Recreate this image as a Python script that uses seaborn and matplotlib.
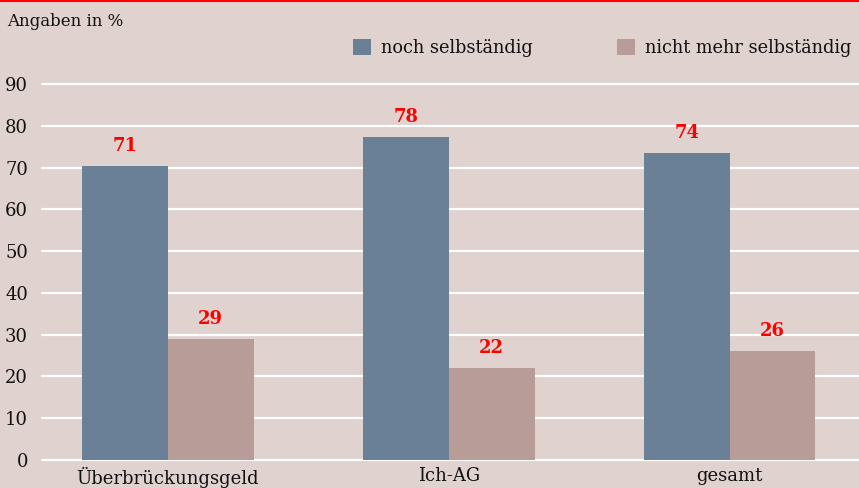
import numpy as np
import pandas as pd
import matplotlib.pyplot as plt
import seaborn as sns
from matplotlib.patches import Patch

# Daten aus der Grafik
kategorien = ["Überbrückungsgeld", "Ich-AG", "gesamt"]
serien = ["noch selbständig", "nicht mehr selbständig"]
noch = [70.4, 77.4, 73.5]
nicht_mehr = [28.9, 22.0, 26.1]
label_noch = ["71", "78", "74"]
label_nicht = ["29", "22", "26"]
yticks = [0, 10, 20, 30, 40, 50, 60, 70, 80, 90]

bg = "#dfd2cf"
farben = ["#6a8097", "#b89c97"]

df = pd.DataFrame({
    "Kategorie": kategorien * 2,
    "Serie": [serien[0]] * 3 + [serien[1]] * 3,
    "Wert": noch + nicht_mehr,
})

sns.set_theme(style="white")
plt.rcParams["font.family"] = ["DejaVu Serif"]

fig = plt.figure(figsize=(8.59, 4.88), dpi=100, facecolor=bg)
# 0 bei y=460, 90 bei y=84
ax = fig.add_axes([42 / 859, (488 - 460) / 488, 817 / 859, (460 - 84) / 488])
ax.set_facecolor(bg)

sns.barplot(data=df, x="Kategorie", y="Wert", hue="Serie", palette=farben,
            width=0.61, saturation=1, ax=ax, zorder=3, legend=False,
            linewidth=0, edgecolor="none")

ax.set_ylim(0, 90)
ax.set_xlim(-0.448, 2.46)
ax.set_yticks(yticks)
ax.set_yticklabels([str(t) for t in yticks])
ax.grid(axis="y", color="white", linewidth=1.6, zorder=0)
ax.set_axisbelow(True)
for s in ax.spines.values():
    s.set_visible(False)
ax.tick_params(axis="y", length=0, pad=10, labelsize=13, colors="#111111")
ax.tick_params(axis="x", length=0, pad=5, labelsize=13, colors="#111111")
ax.set_xlabel("")
ax.set_ylabel("")
for gl in ax.get_ygridlines():
    gl.set_clip_on(False)

# Wertebeschriftungen
for i, bars in enumerate(ax.containers):
    texte = label_noch if i == 0 else label_nicht
    for bar, t in zip(bars, texte):
        ax.annotate(t, (bar.get_x() + bar.get_width() / 2, bar.get_height()),
                    xytext=(0, 8), textcoords="offset points", ha="center",
                    va="bottom", color="#ff0000", fontsize=13, fontweight="bold")

# Legende
handles = [Patch(facecolor=c, edgecolor="none") for c in farben]
fig.legend(handles, serien, loc="center left", bbox_to_anchor=(353 / 859, 1 - 48 / 488),
           ncol=2, frameon=False, fontsize=12.8, handlelength=1.0, handleheight=1.0,
           handletextpad=0.6, columnspacing=4.7, borderaxespad=0, borderpad=0,
           labelcolor="#111111")

fig.text(7 / 859, 1 - 22 / 488, "Angaben in %", ha="left", va="center",
         fontsize=12, color="#111111")

# roter Strich oben
fig.add_artist(plt.Line2D([0, 1], [1 - 1 / 488, 1 - 1 / 488], color="#ff0000",
                          linewidth=1.5, transform=fig.transFigure))

fig.savefig("out.png", dpi=100, facecolor=bg)
